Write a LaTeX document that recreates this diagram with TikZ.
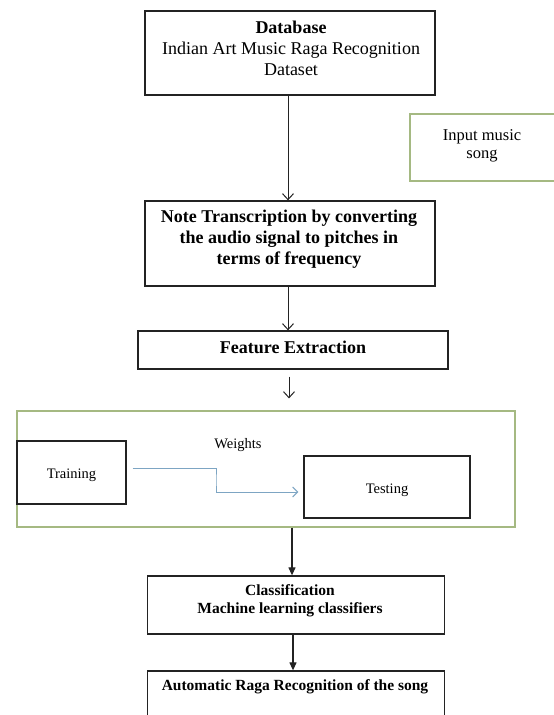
\documentclass[tikz,border=0pt]{standalone}
\usepackage{fontspec}
\setmainfont{Liberation Serif}
\usetikzlibrary{arrows.meta}
\definecolor{boxc}{RGB}{35,35,35}
\definecolor{grn}{RGB}{165,185,130}
\definecolor{blu}{RGB}{125,165,195}
\begin{document}
\begin{tikzpicture}[x=1pt,y=-1pt,
  box/.style={draw=boxc,line width=1.3pt,rectangle,inner sep=0pt},
  gbox/.style={draw=grn,line width=1.2pt,rectangle,inner sep=0pt},
  txt/.style={align=center,inner sep=0pt,text=black},
  bigb/.style={txt,font=\fontsize{18}{21}\selectfont\bfseries},
  bigr/.style={txt,font=\fontsize{18}{21}\selectfont},
  midb/.style={txt,font=\fontsize{15.5}{18}\selectfont\bfseries},
  smallr/.style={txt,font=\fontsize{14.5}{17}\selectfont},
  openarr/.style={draw=boxc,line width=1pt,-{Straight Barb[length=6pt,width=11pt,line width=1pt]}},
  fillarr/.style={draw=boxc,line width=1.2pt,-{Triangle[length=8pt,width=7pt]}},
  bluearr/.style={draw=blu,line width=1pt,-{Straight Barb[length=5pt,width=10pt,line width=1pt]}},
]
\useasboundingbox (0,0) rectangle (554,715);
\fill[white] (0,0) rectangle (554,715);
\clip (0,0) rectangle (554,715);

% boxes
\node[box, minimum width=290, minimum height=84] (db) at (290,53) {};
\node[gbox, minimum width=150, minimum height=67] (in) at (485,147.5) {};
\node[box, minimum width=290, minimum height=85] (nt) at (290,243.5) {};
\node[box, minimum width=310, minimum height=38] (fe) at (293,350) {};
\node[gbox, minimum width=498, minimum height=116] (gr) at (266,469) {};
\node[box, minimum width=109, minimum height=63] (tr) at (71.5,472.5) {};
\node[box, minimum width=166, minimum height=62] (ts) at (387,487) {};
\node[box, minimum width=297, minimum height=58] (cl) at (296,605) {};
\node[box, minimum width=297, minimum height=60] (ar) at (296,701) {};

% texts
\node[bigr] (dbt) at (291,48.5) {{\bfseries Database}\\Indian Art Music Raga Recognition\\Dataset};
\node[txt,font=\fontsize{16.5}{18}\selectfont] (int) at (482,146) {Input music\\song};
\node[bigb] (ntt) at (289,239) {Note Transcription by converting\\the audio signal to pitches in\\terms of frequency};
\node[bigb] (fet) at (293,347) {Feature Extraction};
\node[smallr] (trt) at (71.5,475) {Training};
\node[smallr] (tst) at (387,490) {Testing};
\node[smallr] (wt) at (238,445) {Weights};
\node[midb] (clt) at (290,601) {Classification\\Machine learning classifiers};
\node[midb] (art) at (295,687) {Automatic Raga Recognition of the song};

% connectors
\draw[openarr] (db.south -| 288,0) -- (nt.north -| 288,0);
\draw[openarr] (nt.south -| 288,0) -- (fe.north -| 288,0);
\coordinate (a3) at (289,0);
\draw[openarr] ([yshift=-7pt]fe.south -| a3) -- ([yshift=12pt]gr.north -| a3);
\coordinate (wk) at (216,480);
\draw[bluearr] ([xshift=6pt,yshift=4.5pt]tr.east) -| (wk) |- ([xshift=-5pt,yshift=-5pt]ts.west);
\draw[fillarr] (gr.south -| 292,0) -- (cl.north -| 292,0);
\draw[fillarr] (cl.south -| 293,0) -- (ar.north -| 293,0);
\end{tikzpicture}
\end{document}
